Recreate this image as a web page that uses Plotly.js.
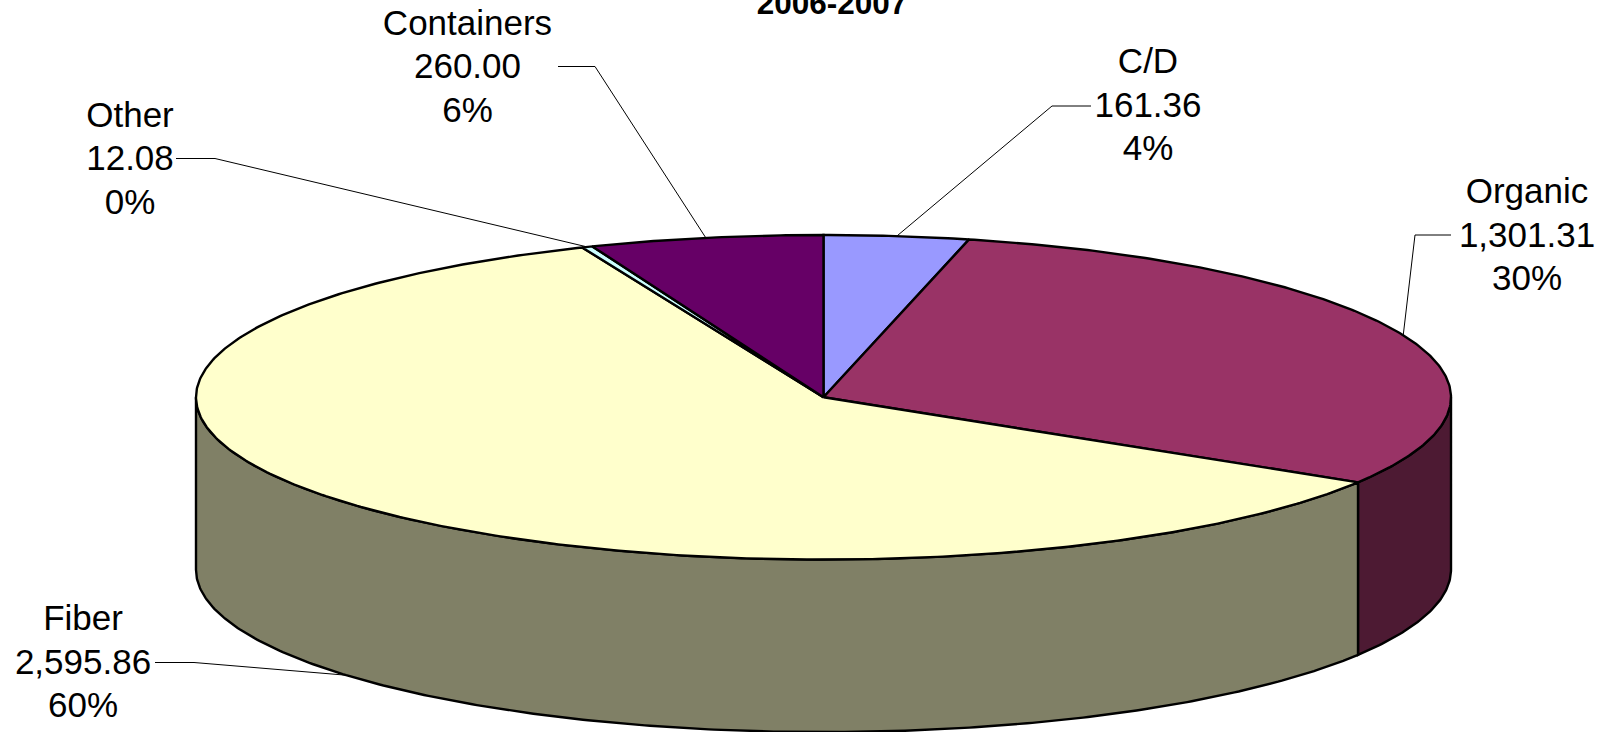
<!DOCTYPE html>
<html>
<head>
<meta charset="utf-8">
<script src="https://cdn.plot.ly/plotly-3.0.1.min.js"></script>
<style>html,body{margin:0;padding:0;background:#fff;overflow:hidden}</style>
</head>
<body>
<div id="chart" style="width:1602px;height:732px"></div>
<script>
// Data, clockwise from twelve o'clock
const categories = ['C/D', 'Organic', 'Fiber', 'Other', 'Containers'];
const tonnage = [161.36, 1301.31, 2595.86, 12.08, 260.00];
const titleText = '2006-2007';

// Styles
const topColors = ['#9999FF', '#993366', '#FFFFCC', '#CCFFFF', '#660066'];
const sideColors = ['#4D4D80', '#4D1A33', '#808066', '#668080', '#330033'];
const fontFamily = '"Liberation Sans", Arial, sans-serif';

// Geometry, in axis units equal to pixels
const cx = 823.5, cy = 397.3, rx = 627.5, ry = 162.3, depth = 172.5;
const labelFont = 35, lineGap = 43.5;
const labelCenters = [[1148, 108.2], [1527, 238.2], [83, 665.2], [130, 161.7], [467.5, 69.7]];
const elbows = [[[1091, 106], [1052, 106]], [[1451, 235], [1415, 235]], [[155, 662.5], [194, 662.5]], [[176, 158.5], [215, 158.5]], [[558, 66.5], [595, 66.5]]];

const total = tonnage.reduce((a, b) => a + b, 0);
const px = d => cx + rx * Math.sin(d * Math.PI / 180);
const py = (d, drop) => cy - ry * Math.cos(d * Math.PI / 180) + drop;
const arc = (a, b, drop) => {
  const n = Math.max(2, Math.ceil(Math.abs(b - a) * 2));
  const xs = [], ys = [];
  for (let i = 0; i <= n; i++) {
    const d = a + (b - a) * i / n;
    xs.push(px(d)); ys.push(py(d, drop));
  }
  return [xs, ys];
};

// Slice boundaries in degrees
const bounds = [0];
tonnage.forEach(v => bounds.push(bounds[bounds.length - 1] + v / total * 360));

const traces = [];
const face = (xs, ys, color) => traces.push({
  type: 'scatter', mode: 'lines', x: xs, y: ys, fill: 'toself', fillcolor: color,
  line: {color: '#000', width: 2.4}, hoverinfo: 'skip'
});

// Visible side walls (front half of the rim)
tonnage.forEach((v, i) => {
  const a = Math.max(bounds[i], 90), b = Math.min(bounds[i + 1], 270);
  if (b <= a) return;
  const [tx, ty] = arc(a, b, 0);
  const [bx, by] = arc(b, a, depth);
  face(tx.concat(bx, [tx[0]]), ty.concat(by, [ty[0]]), sideColors[i]);
});

// Top face slices
tonnage.forEach((v, i) => {
  const [tx, ty] = arc(bounds[i], bounds[i + 1], 0);
  face([cx].concat(tx, [cx]), [cy].concat(ty, [cy]), topColors[i]);
});

// Leader lines, anchored at each slice's middle angle
tonnage.forEach((v, i) => {
  const mid = (bounds[i] + bounds[i + 1]) / 2;
  const onFront = mid > 90 && mid < 270;
  const e = elbows[i];
  traces.push({
    type: 'scatter', mode: 'lines',
    x: [e[0][0], e[1][0], px(mid)],
    y: [e[0][1], e[1][1], py(mid, onFront ? depth : 0)],
    line: {color: '#000', width: 1}, hoverinfo: 'skip'
  });
});

// Three-line data labels
const money = v => v.toLocaleString('en-US', {minimumFractionDigits: 2, maximumFractionDigits: 2});
tonnage.forEach((v, i) => {
  const [x, y] = labelCenters[i];
  traces.push({
    type: 'scatter', mode: 'text',
    x: [x, x, x], y: [y - lineGap, y, y + lineGap],
    text: [categories[i], money(v), Math.round(v / total * 100) + '%'],
    textposition: 'middle center',
    textfont: {family: fontFamily, size: labelFont, color: '#000'},
    cliponaxis: false, hoverinfo: 'skip'
  });
});

Plotly.newPlot('chart', traces, {
  width: 1602, height: 732,
  margin: {l: 0, r: 0, t: 0, b: 0, pad: 0},
  paper_bgcolor: '#fff', plot_bgcolor: '#fff',
  showlegend: false, hovermode: false,
  title: {
    text: '<b>' + titleText + '</b>', x: 832 / 1602, xanchor: 'center',
    y: 1 - 2.5 / 732, yanchor: 'middle', yref: 'paper',
    font: {family: fontFamily, size: 31.5, color: '#000'}
  },
  xaxis: {range: [0, 1602], visible: false, fixedrange: true},
  yaxis: {range: [732, 0], visible: false, fixedrange: true}
}, {displayModeBar: false, staticPlot: true});
</script>
</body>
</html>
